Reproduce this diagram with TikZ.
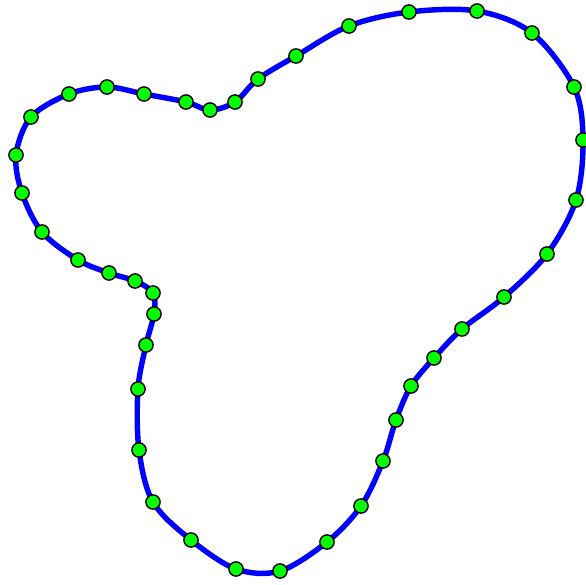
\documentclass[tikz,border=0pt]{standalone}
\usetikzlibrary{calc}
\tikzset{
  curve/.style={blue,line width=3.1pt,line join=round},   % closed outline
  pnode/.style={circle,draw=black,fill=green,line width=0.8pt,inner sep=0pt,minimum size=0.285cm}, % sample point
}
% sample points, pixel coords (y down)
\def\pts{210/110,235/102,258/79,296/56,349/26,409/12,477/11,532/33,574/87,583/140,
  576/200,547/254,504/297,462/329,434/358,411/386,396/420,383/461,361/506,327/542,
  280/571,236/569,191/540,153/502,139/450,138/389,146/345,154/314,153/293,135/281,
  109/273,78/260,42/232,22/193,16/155,31/117,69/94,107/87,144/94,186/102}

\begin{document}
\begin{tikzpicture}[x=0.02cm,y=-0.02cm]
  \useasboundingbox (0,0) rectangle (586,585);
  \foreach \x/\y [count=\i] in \pts \coordinate (c\i) at (\x,\y);
  \draw[curve] plot[smooth cycle,tension=0.55] coordinates {(c1) (c2) (c3) (c4) (c5)
    (c6) (c7) (c8) (c9) (c10) (c11) (c12) (c13) (c14) (c15) (c16) (c17) (c18) (c19)
    (c20) (c21) (c22) (c23) (c24) (c25) (c26) (c27) (c28) (c29) (c30) (c31) (c32)
    (c33) (c34) (c35) (c36) (c37) (c38) (c39) (c40)};
  \foreach \i in {1,...,40} \node[pnode] (p\i) at (c\i) {};
\end{tikzpicture}
\end{document}
